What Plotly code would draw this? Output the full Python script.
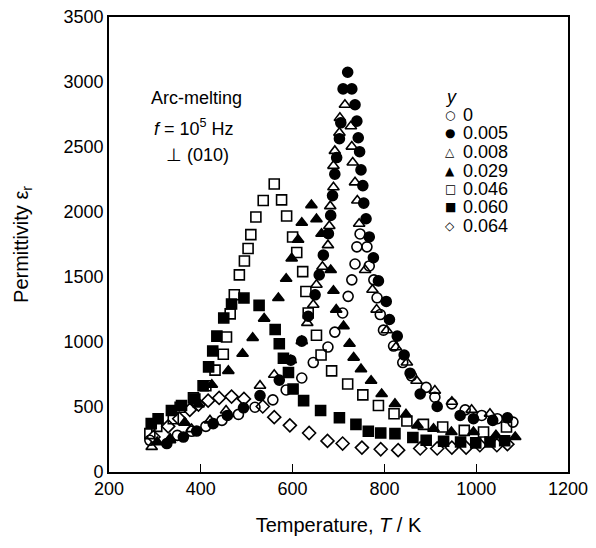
import plotly.graph_objects as go

# ---- data ----
labels = ["0", "0.005", "0.008", "0.029", "0.046", "0.060", "0.064"]

T_0 = [289, 349, 380, 411, 446, 482, 518, 557, 586, 620, 645, 677, 692, 709, 721, 729, 736, 740, 747, 762, 767, 777, 784, 791, 798, 820, 840, 859, 891, 910, 947, 976, 1012, 1046, 1080]
E_0 = [244, 282, 313, 351, 397, 443, 498, 555, 631, 723, 842, 961, 1076, 1223, 1351, 1478, 1600, 1732, 1831, 1732, 1585, 1478, 1340, 1211, 1091, 969, 842, 740, 651, 575, 524, 478, 435, 410, 384]

T_005 = [326, 362, 391, 427, 458, 493, 529, 571, 596, 620, 634, 649, 658, 667, 678, 683, 687, 692, 696, 702, 705, 710, 720, 729, 736, 740, 743, 746, 749, 753, 755, 760, 767, 776, 787, 804, 811, 828, 843, 856, 878, 915, 965, 994, 1036, 1068]
E_005 = [219, 269, 315, 372, 435, 494, 588, 707, 860, 1007, 1198, 1363, 1516, 1668, 1833, 1974, 2126, 2291, 2419, 2564, 2686, 2947, 3075, 2947, 2825, 2699, 2571, 2464, 2324, 2203, 2068, 1948, 1808, 1648, 1470, 1312, 1173, 1045, 900, 760, 600, 504, 435, 410, 397, 417]

T_008 = [293, 333, 380, 420, 455, 529, 560, 596, 620, 632, 645, 652, 665, 677, 680, 682, 689, 689, 692, 702, 703, 714, 727, 729, 731, 736, 741, 745, 758, 774, 783, 805, 825, 849, 870, 910, 947, 990, 1030]
E_008 = [193, 244, 330, 397, 473, 664, 748, 860, 1007, 1147, 1287, 1440, 1579, 1745, 1892, 2045, 2190, 2355, 2470, 2609, 2724, 2825, 2660, 2503, 2381, 2228, 2088, 1910, 1554, 1402, 1249, 1090, 960, 842, 702, 626, 540, 478, 448]

T_029 = [305, 333, 365, 395, 424, 460, 491, 513, 538, 569, 586, 598, 612, 620, 641, 652, 663, 683, 689, 695, 711, 724, 733, 749, 771, 794, 823, 847, 872, 907, 946, 994, 1043, 1085]
E_029 = [230, 257, 380, 520, 671, 778, 910, 1032, 1180, 1338, 1486, 1643, 1787, 1917, 2053, 1945, 1833, 1554, 1394, 1249, 1122, 987, 880, 791, 702, 600, 524, 443, 359, 333, 308, 308, 282, 269]

T_046 = [289, 304, 340, 355, 384, 411, 431, 449, 456, 464, 473, 484, 495, 503, 509, 520, 536, 560, 576, 587, 600, 609, 622, 629, 634, 652, 662, 685, 720, 753, 787, 821, 849, 885, 927, 974, 1016, 1066]
E_046 = [295, 351, 410, 498, 570, 664, 784, 906, 1038, 1216, 1363, 1516, 1623, 1719, 1826, 1961, 2088, 2215, 2093, 1969, 1808, 1689, 1541, 1389, 1223, 1052, 900, 778, 677, 593, 511, 448, 392, 366, 346, 320, 308, 346]

T_060 = [292, 307, 336, 358, 387, 405, 417, 426, 435, 450, 467, 494, 527, 562, 571, 580, 591, 601, 624, 661, 702, 738, 765, 792, 823, 862, 891, 929, 966, 999, 1030, 1062]
E_060 = [372, 410, 473, 511, 562, 664, 809, 931, 1045, 1185, 1292, 1338, 1282, 1096, 987, 875, 765, 638, 549, 473, 417, 366, 313, 300, 295, 265, 244, 237, 231, 224, 231, 240]

T_064 = [297, 329, 353, 376, 395, 416, 440, 467, 494, 535, 560, 594, 636, 676, 709, 751, 792, 830, 878, 915, 947, 978, 1008, 1045, 1068]
E_064 = [269, 351, 410, 478, 519, 549, 570, 580, 562, 504, 422, 359, 300, 239, 219, 188, 175, 168, 181, 181, 188, 188, 206, 206, 214]

x_ticks = [200, 400, 600, 800, 1000, 1200]
y_ticks = [0, 500, 1000, 1500, 2000, 2500, 3000, 3500]

symbols = ["circle-open", "circle", "triangle-up-open", "triangle-up",
           "square-open", "square", "diamond-open"]
legend_glyphs = ["○", "●", "△", "▲", "□", "■", "◇"]
series_T = [T_0, T_005, T_008, T_029, T_046, T_060, T_064]
series_E = [E_0, E_005, E_008, E_029, E_046, E_060, E_064]

FONT = "Liberation Sans, Arial, Helvetica, sans-serif"

# page has an 8px body margin; figure coordinates = page coordinates - 8
OFF = 8
FIG_W, FIG_H = 596, 548
# plot-area geometry in page pixels
L, R, TOP, BOT = 109, 568, 17, 472
W, H = R - L, BOT - TOP


def px(x):
    return (x - L) / W


def py(y):
    return (BOT - y) / H


fig = go.Figure()
for tx, ey, sym, lab in zip(series_T, series_E, symbols, labels):
    fig.add_trace(go.Scatter(
        x=tx, y=ey, mode="markers", name=lab, showlegend=False,
        marker=dict(symbol=sym, size=10, color="black",
                    line=dict(color="black", width=1.6)),
    ))

fig.update_layout(
    width=FIG_W, height=FIG_H,
    margin=dict(l=L - OFF, r=FIG_W - (R - OFF), t=TOP - OFF, b=FIG_H - (BOT - OFF), pad=0),
    paper_bgcolor="white", plot_bgcolor="white",
    font=dict(family=FONT, size=18, color="black"),
    showlegend=False,
    xaxis=dict(
        range=[200, 1200], tickvals=x_ticks, ticktext=[str(v) for v in x_ticks],
        ticks="inside", ticklen=8, tickwidth=1.2, tickcolor="black",
        showline=True, linecolor="black", linewidth=1.6, mirror=True,
        showgrid=False, zeroline=False, automargin=False,
        ticklabeloverflow="allow",
        title=dict(text="Temperature, <i>T</i> / K", font=dict(size=20), standoff=20),
        tickfont=dict(size=18),
    ),
    yaxis=dict(
        range=[0, 3500], tickvals=y_ticks, ticktext=[str(v) for v in y_ticks],
        ticks="", showline=True, linecolor="black", linewidth=1.6, mirror=True,
        showgrid=False, zeroline=False, automargin=False,
        ticklabeloverflow="allow",
        title=dict(text="Permittivity ε<sub>r</sub>", font=dict(size=20), standoff=30),
        tickfont=dict(size=18),
    ),
)

# in-plot notes
ann = [
    ("Arc-melting", 196, 98),
    ("<i>f</i> = 10<sup>5</sup> Hz", 194, 127),
    ("⊥ (010)", 197, 155),
]
for txt, x0, y0 in ann:
    fig.add_annotation(
        text=txt, xref="paper", yref="paper", x=px(x0), y=py(y0),
        xanchor="center", yanchor="middle", showarrow=False,
        font=dict(size=18, family=FONT, color="black"),
    )

# legend drawn as text: title, glyphs and labels
fig.add_annotation(text="<i>y</i>", xref="paper", yref="paper",
                   x=px(451), y=py(97), xanchor="center", yanchor="middle",
                   showarrow=False, font=dict(size=18, family=FONT))
leg_y0, leg_dy = 115, 18.5
for i, (g, lab) in enumerate(zip(legend_glyphs, labels)):
    yy = leg_y0 + i * leg_dy
    fig.add_annotation(text=g, xref="paper", yref="paper",
                       x=px(450), y=py(yy), xanchor="center", yanchor="middle",
                       showarrow=False, font=dict(size=12, family="DejaVu Sans"))
    fig.add_annotation(text=lab, xref="paper", yref="paper",
                       x=px(461), y=py(yy), xanchor="left", yanchor="middle",
                       showarrow=False, font=dict(size=18, family=FONT))

fig.write_html("out.html")
